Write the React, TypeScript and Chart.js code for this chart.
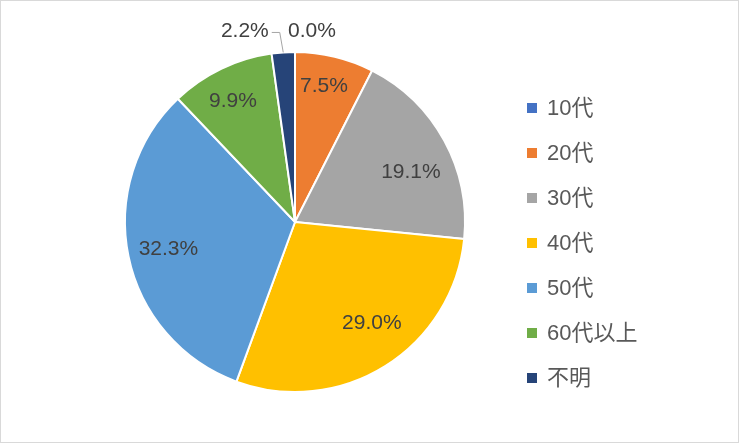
import React, { useEffect, useRef } from "react";
import { Chart, registerables } from "chart.js";

Chart.register(...registerables);

const categories = ["10代", "20代", "30代", "40代", "50代", "60代以上", "不明"];
const shares = [0.0, 7.5, 19.1, 29.0, 32.3, 9.9, 2.2];
const colors = ["#4472C4", "#ED7D31", "#A5A5A5", "#FFC000", "#5B9BD5", "#70AD47", "#264478"];

// label placement tuning (best-fit style): angle nudge in degrees, radius as a share of the pie radius
const labelAngleNudge = [0, -1.5, 4.9, -5.3, 0.1, -1.2, 0];
const labelRadiusRatio = [1, 0.82, 0.745, 0.745, 0.76, 0.805, 1];

const FONT = '"Liberation Sans", Arial, "Noto Sans CJK JP", sans-serif';

const framePlugin = {
  id: "frame",
  beforeDraw(chart: any) {
    const { ctx, width, height } = chart;
    ctx.save();
    ctx.fillStyle = "#ffffff";
    ctx.fillRect(0, 0, width, height);
    ctx.strokeStyle = "#D9D9D9";
    ctx.lineWidth = 1;
    ctx.strokeRect(0.5, 0.5, width - 2, height - 3);
    ctx.restore();
  },
};

const labelPlugin = {
  id: "pieLabels",
  afterDatasetsDraw(chart: any) {
    const ctx = chart.ctx;
    const meta = chart.getDatasetMeta(0);
    ctx.save();
    ctx.font = `21px ${FONT}`;
    ctx.fillStyle = "#404040";
    ctx.textBaseline = "middle";
    meta.data.forEach((arc: any, i: number) => {
      const { x, y, startAngle, endAngle, outerRadius } = arc.getProps(
        ["x", "y", "startAngle", "endAngle", "outerRadius"],
        true
      );
      const v = shares[i];
      const text = v.toFixed(1) + "%";
      if (v >= 5) {
        const a = (startAngle + endAngle) / 2 + (labelAngleNudge[i] * Math.PI) / 180;
        const r = outerRadius * labelRadiusRatio[i];
        ctx.textAlign = "center";
        ctx.fillText(text, x + Math.cos(a) * r, y + Math.sin(a) * r + 1);
      } else {
        const mid = (startAngle + endAngle) / 2;
        const c = Math.cos(mid);
        const s = Math.sin(mid);
        const r2 = outerRadius + 22;
        const ax = x + c * r2;
        const ay = y + s * r2;
        if (v === 0) {
          ctx.textAlign = "left";
          ctx.fillText(text, ax - 7, ay + 1);
        } else {
          const ex = x + c * outerRadius;
          const ey = y + s * outerRadius;
          ctx.strokeStyle = "#A6A6A6";
          ctx.lineWidth = 1;
          ctx.beginPath();
          ctx.moveTo(ex, ey);
          ctx.lineTo(ax - 2, ay + 2);
          ctx.lineTo(ax - 10, ay + 2);
          ctx.stroke();
          ctx.textAlign = "right";
          ctx.fillText(text, ax - 13, ay + 1);
        }
      }
    });
    ctx.restore();
  },
};

const LEGEND_X = 527;
const LEGEND_TOP = 108;
const LEGEND_STEP = 45;

const legendPlugin = {
  id: "sideLegend",
  afterDraw(chart: any) {
    const ctx = chart.ctx;
    ctx.save();
    ctx.font = `22px ${FONT}`;
    ctx.textBaseline = "middle";
    ctx.textAlign = "left";
    categories.forEach((name, i) => {
      const cy = LEGEND_TOP + i * LEGEND_STEP;
      ctx.fillStyle = colors[i];
      ctx.fillRect(LEGEND_X, cy - 5, 10, 10);
      ctx.fillStyle = "#595959";
      ctx.fillText(name, LEGEND_X + 20, cy + 1);
    });
    ctx.restore();
  },
};

export default function App() {
  const ref = useRef<HTMLCanvasElement | null>(null);

  useEffect(() => {
    if (!ref.current) return;
    const chart = new Chart(ref.current, {
      type: "pie",
      data: {
        labels: categories,
        datasets: [
          {
            data: shares,
            backgroundColor: colors,
            borderColor: "#ffffff",
            borderWidth: 2,
          },
        ],
      },
      options: {
        responsive: false,
        animation: false,
        devicePixelRatio: 1,
        layout: { padding: { left: 124, right: 274, top: 51, bottom: 52 } },
        plugins: {
          legend: { display: false },
          tooltip: { enabled: false },
        },
      },
      plugins: [framePlugin, labelPlugin, legendPlugin],
    });
    return () => chart.destroy();
  }, []);

  return (
    <div style={{ position: "absolute", left: 0, top: 0, width: 740, height: 445, background: "#fff" }}>
      <canvas ref={ref} width={740} height={445} />
    </div>
  );
}
